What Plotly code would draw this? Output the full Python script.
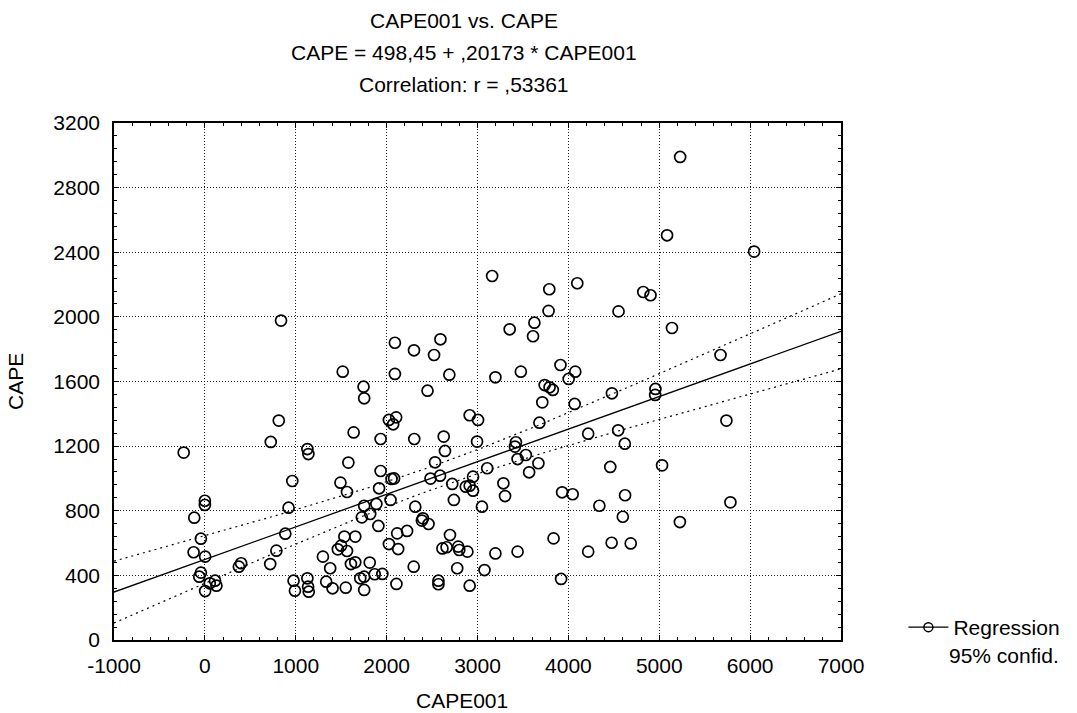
import numpy as np
import plotly.graph_objects as go

# CAPE001 (x) and CAPE (y) values
cape001 = [
    838, 2091, 2592, 2301, 2522, 1517, 2091, 2690, 1746, 1753, 2450,
    5230, 5086, 6044, 3161, 3790, 4098, 4824, 4904, 3782, 4552, 3354, 3626, 3611, 5140, 5674, 3913,
    3197, 3477, 4003, 4076, 3739, 3793, 3829, 3713, 4069, 4479, 4958, 4955, 5739, 3681, 4218, 4548, 4621,
    813, 725, -233, 1128, 1139, 1637, 2025, 2105, 2072, 1934, 2304, 2628, 2642, 2914, 3006, 2995,
    962, 1492, 1564, 1579, 1934, 2054, 2082, 1917, 2043, 1753, 1887, 1727, 1819, 1909,
    2483, 2533, 2588, 2722, 2740, 2871, 2914, 2951, 2951,
    2315, 2399, 2388, 2461, 2225, 2116, 2025, 2127, 2298, 2108, 2570, 2570, 2697, 2614, 2660, 2788, 2799, 2889, 2777, 2914,
    0, 0, -117, -44, -124, 3, -44, -62, 3, 54, 112, 127,
    374, 399, 719, 787, 885, 921, 976, 991, 1128, 1136, 1143,
    1299, 1379, 1335, 1405, 1463, 1499, 1535, 1564, 1655, 1607, 1655, 1550, 1710, 1753, 1753, 1814, 1869, 1953,
    3423, 3412, 3532, 3441, 3670, 3568, 3107, 3049, 3285, 3303, 5031, 4461, 3931, 4047, 4624, 4341, 4599,
    5783, 5227, 3837, 4476, 4686, 3197, 3441, 4218, 3077, 3920,
]
cape = [
    1977, 1840, 1861, 1793, 1764, 1661, 1647, 1642, 1568, 1496, 1543,
    2990, 2505, 2404, 2253, 2171, 2208, 2154, 2134, 2037, 2034, 1923, 1964, 1880, 1931, 1764, 1702,
    1626, 1661, 1616, 1661, 1578, 1564, 1548, 1471, 1461, 1527, 1554, 1517, 1358, 1345, 1277, 1298, 1215,
    1358, 1226, 1160, 1182, 1151, 1285, 1362, 1378, 1335, 1244, 1244, 1259, 1170, 1391, 1362, 1228,
    984, 974, 916, 1098, 1046, 997, 1000, 939, 867, 831, 842, 759, 780, 706,
    999, 1100, 1017, 966, 867, 949, 955, 924, 1011,
    825, 753, 739, 718, 675, 660, 594, 563, 454, 347, 367, 345, 650, 567, 574, 578, 557, 547, 444, 336,
    862, 836, 757, 627, 543, 516, 417, 392, 303, 351, 367, 336,
    454, 475, 470, 553, 658, 819, 367, 305, 382, 330, 299,
    516, 444, 361, 320, 561, 584, 640, 551, 640, 470, 481, 324, 382, 392, 310, 479, 407, 409,
    1224, 1197, 1145, 1120, 1094, 1038, 1063, 825, 970, 891, 1081, 1071, 914, 902, 896, 831, 763,
    852, 730, 629, 602, 598, 536, 547, 547, 433, 378,
]

# Regression stated in the chart title
intercept = 498.45
slope = 0.20173
x_range = [-1000, 7000]
y_range = [0, 3200]
x_ticks = [-1000, 0, 1000, 2000, 3000, 4000, 5000, 6000, 7000]
x_ticklabels = ["-1000", "0", "1000", "2000", "3000", "4000", "5000", "6000", "7000"]
y_ticks = [0, 400, 800, 1200, 1600, 2000, 2400, 2800, 3200]

title_lines = ["CAPE001 vs. CAPE",
               "CAPE = 498,45 + ,20173 * CAPE001",
               "Correlation: r = ,53361"]

x = np.array(cape001, dtype=float)
y = np.array(cape, dtype=float)
n = len(x)
resid = y - (intercept + slope * x)
s = np.sqrt(np.sum(resid ** 2) / (n - 2))
xm = x.mean()
sxx = np.sum((x - xm) ** 2)
xl = np.linspace(x_range[0], x_range[1], 200)
yl = intercept + slope * xl
half = 1.973 * s * np.sqrt(1.0 / n + (xl - xm) ** 2 / sxx)

FONT = "Liberation Sans, Arial, sans-serif"

fig = go.Figure()
fig.add_trace(go.Scatter(x=xl, y=yl + half, mode="lines", showlegend=False,
                         line=dict(color="black", width=1.2, dash="2px,4px")))
fig.add_trace(go.Scatter(x=xl, y=yl - half, mode="lines", showlegend=False,
                         line=dict(color="black", width=1.2, dash="2px,4px")))
fig.add_trace(go.Scatter(x=xl, y=yl, mode="lines", showlegend=False,
                         line=dict(color="black", width=1.3)))
fig.add_trace(go.Scatter(x=cape001, y=cape, mode="markers", showlegend=False,
                         marker=dict(symbol="circle-open", size=11, color="black",
                                     line=dict(width=1.7, color="black"))))
# legend-only entry
fig.add_trace(go.Scatter(x=[None], y=[None], mode="lines+markers", name="Regression",
                         line=dict(color="black", width=1.2),
                         marker=dict(symbol="circle-open", size=9, color="black",
                                     line=dict(width=1.5))))

axis_common = dict(
    showline=True, linecolor="black", linewidth=1.6, mirror="allticks",
    ticks="inside", ticklen=5, tickwidth=1, tickcolor="black",
    showgrid=True, gridcolor="#222222", gridwidth=1, griddash="1px,2px",
    zeroline=False,
    tickfont=dict(family=FONT, size=21, color="black"),
)

fig.update_xaxes(range=x_range, tickvals=x_ticks, ticktext=x_ticklabels, ticklabelstandoff=6,
                 minor=dict(dtick=200, ticks="inside", ticklen=3, tickcolor="black", showgrid=False),
                 **axis_common)
fig.update_yaxes(range=y_range, tickvals=y_ticks, ticklabelstandoff=8,
                 minor=dict(dtick=80, ticks="inside", ticklen=3, tickcolor="black", showgrid=False),
                 **axis_common)

L, R, T, B = 114, 229, 123, 73
W, H = 1077, 713
pw, ph = W - L - R, H - T - B

def px_x(p):
    return (p - L) / pw

def px_y(p):
    return (H - B - p) / ph

ann = []
for i, txt in enumerate(title_lines):
    ann.append(dict(text=txt, x=px_x(467), y=px_y(20 + 32.5 * i), xref="paper", yref="paper",
                    xanchor="center", yanchor="middle", showarrow=False,
                    font=dict(family=FONT, size=21, color="black")))
ann.append(dict(text="CAPE001", x=px_x(465), y=px_y(700), xref="paper", yref="paper",
                xanchor="center", yanchor="middle", showarrow=False,
                font=dict(family=FONT, size=21, color="black")))
ann.append(dict(text="CAPE", x=px_x(14), y=px_y(381), xref="paper", yref="paper",
                xanchor="center", yanchor="middle", showarrow=False, textangle=-90,
                font=dict(family=FONT, size=21, color="black")))
ann.append(dict(text="95% confid.", x=px_x(955), y=px_y(655), xref="paper", yref="paper",
                xanchor="left", yanchor="middle", showarrow=False,
                font=dict(family=FONT, size=21, color="black")))

fig.update_layout(
    width=W, height=H,
    margin=dict(l=L, r=R, t=T, b=B),
    paper_bgcolor="white", plot_bgcolor="white",
    showlegend=True,
    legend=dict(x=px_x(911), y=px_y(607), xanchor="left", yanchor="top",
                font=dict(family=FONT, size=21, color="black"),
                bgcolor="rgba(0,0,0,0)", tracegroupgap=0, itemwidth=40),
    annotations=ann,
)

fig.write_html("out.html")
